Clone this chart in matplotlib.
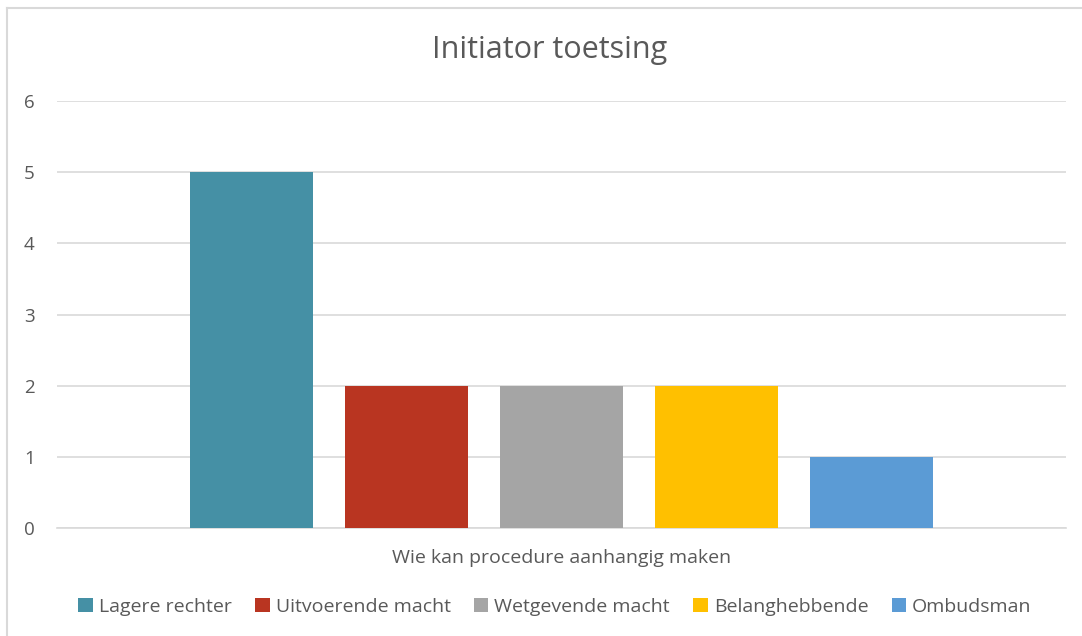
import matplotlib
matplotlib.use('Agg')
import matplotlib.pyplot as plt
from matplotlib.lines import Line2D
from matplotlib.patches import Patch

W, H = 1082, 636

category = 'Wie kan procedure aanhangig maken'
series_names = ['Lagere rechter', 'Uitvoerende macht', 'Wetgevende macht',
                'Belanghebbende', 'Ombudsman']
series_values = [5, 2, 2, 2, 1]
series_colors = ['#4590A5', '#B93521', '#A5A5A5', '#FFC000', '#5B9BD5']
y_ticks = [0, 1, 2, 3, 4, 5, 6]

text_color = '#595959'
grid_color = '#D9D9D9'
plt.rcParams['font.family'] = ['Open Sans', 'DejaVu Sans']

fig = plt.figure(figsize=(W / 100, H / 100), dpi=100)

# plot area in pixels: x 57..1066, y 101..528
ax = fig.add_axes([57 / W, 1 - 528 / H, (1066 - 57) / W, (528 - 101) / H])

step = 155 / 1009
width = 123 / 1009
n = len(series_values)
for i, (name, val, col) in enumerate(zip(series_names, series_values, series_colors)):
    ax.bar((i - (n - 1) / 2) * step, val, width=width, color=col, label=name, zorder=3)

ax.set_xlim(-0.5, 0.5)
ax.set_ylim(0, 6)
ax.set_yticks(y_ticks)
ax.set_yticklabels([str(t) for t in y_ticks], fontsize=13.5, color=text_color)
ax.tick_params(axis='y', length=0, pad=16)
ax.set_xticks([0])
ax.set_xticklabels([category], fontsize=14, color=text_color)
ax.tick_params(axis='x', length=0, pad=15)
ax.yaxis.grid(True, color=grid_color, linewidth=1.2, zorder=0)
for s in ['top', 'right', 'left']:
    ax.spines[s].set_visible(False)
ax.spines['bottom'].set_color(grid_color)
ax.spines['bottom'].set_linewidth(1.2)

fig.text(550 / W, 1 - 50 / H, 'Initiator toetsing', fontsize=22, color=text_color,
         ha='center', va='center')

handles = [Patch(facecolor=c, label=nm) for nm, c in zip(series_names, series_colors)]
fig.legend(handles=handles, loc='center', bbox_to_anchor=(555 / W, 1 - 607 / H),
           ncol=5, frameon=False, fontsize=14, labelcolor=text_color,
           handlelength=0.75, handleheight=0.75, handletextpad=0.3, columnspacing=1.2)

# chart area border (left and top visible)
fig.add_artist(Line2D([7 / W, 7 / W], [0, 1 - 8 / H], color='#D9D9D9', lw=1.5,
                      transform=fig.transFigure))
fig.add_artist(Line2D([7 / W, 1], [1 - 8 / H, 1 - 8 / H], color='#D9D9D9', lw=1.5,
                      transform=fig.transFigure))

fig.savefig('out.png', dpi=100)
